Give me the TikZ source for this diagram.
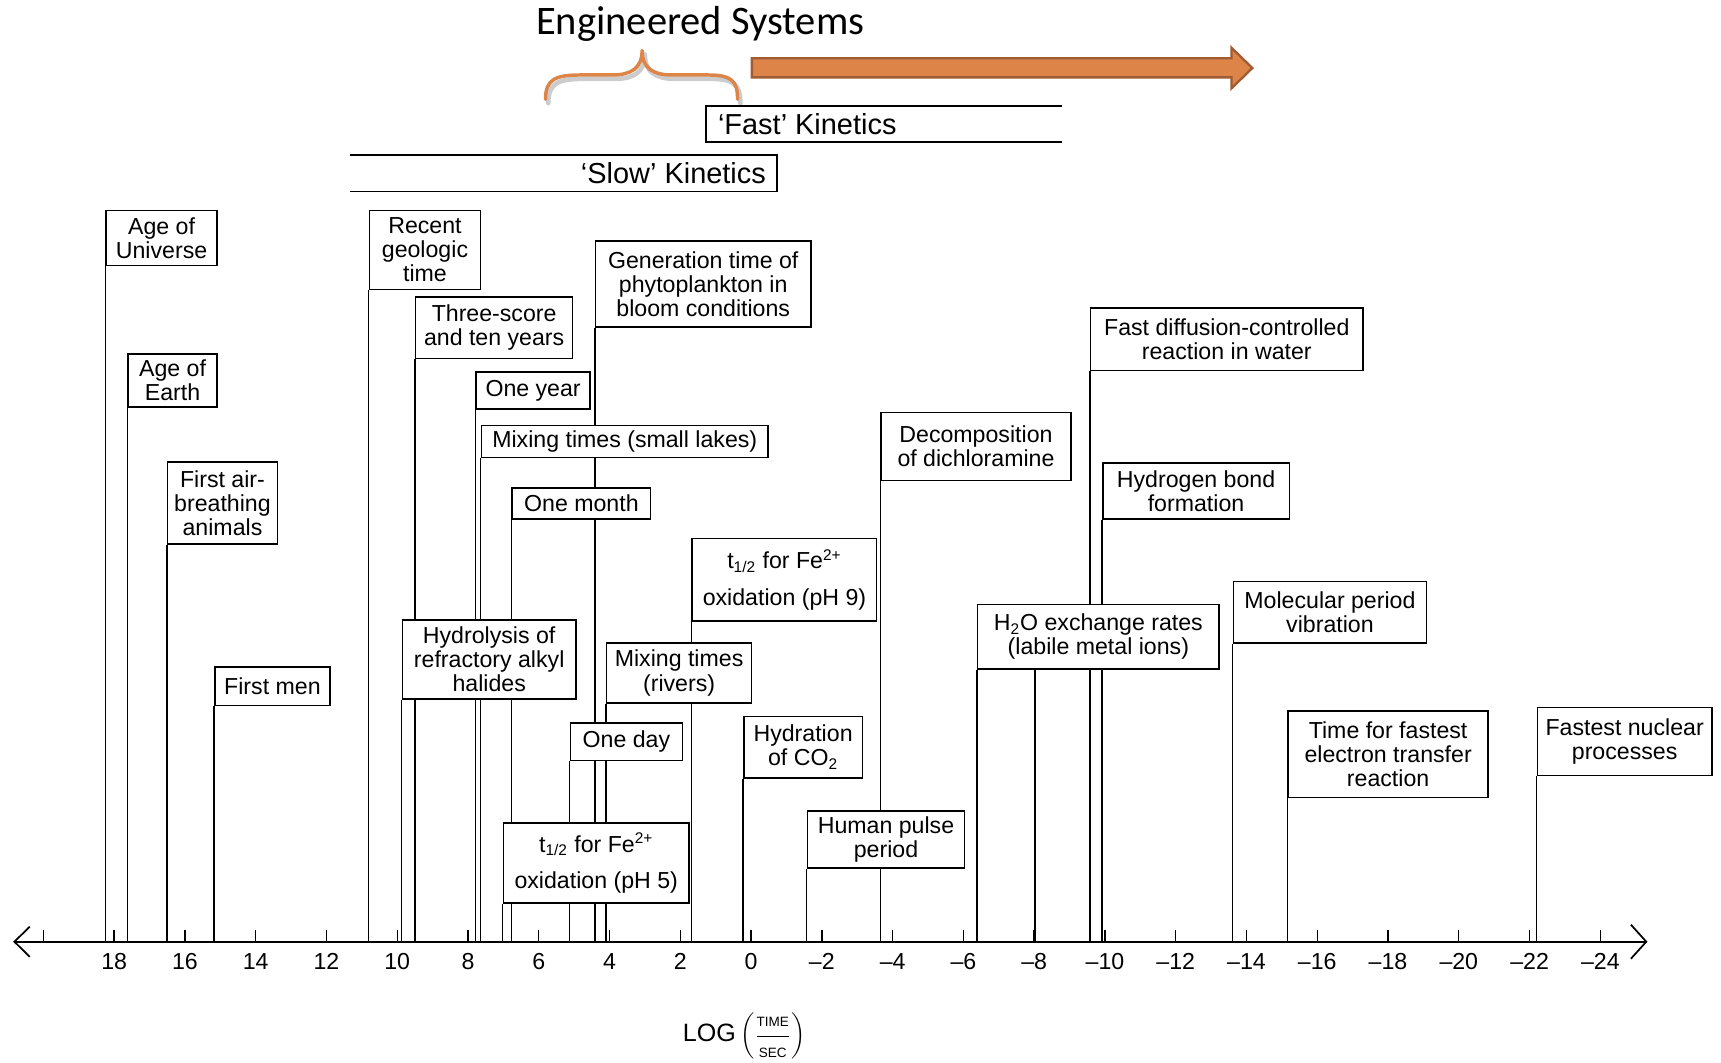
\documentclass[tikz,border=0pt]{standalone}
\usepackage{fontspec}
\setmainfont{Liberation Sans}
\newfontfamily\titlefont{Carlito}
\usetikzlibrary{arrows.meta,backgrounds}

\definecolor{engorange}{RGB}{221,132,72}
\definecolor{engbrown}{RGB}{160,92,52}

\tikzset{
  evt/.style={draw=black, line width=0.8pt, fill=white, anchor=north west,
    align=center, inner sep=1pt, font=\fontsize{12}{12.5}\selectfont},
  stem/.style={line width=0.7pt},
  tick/.style={line width=0.7pt},
  bracket/.style={line width=0.9pt},
  curly/.style={line width=1.8pt, line cap=round, line join=round}
}

\begin{document}
\begin{tikzpicture}[scale=0.2]
  \useasboundingbox (0,0) rectangle (156.8,-96.8);

  % engineered systems
  \node[font=\titlefont\fontsize{21}{21}\selectfont] (eng) at (63.8,-2.2) {Engineered Systems};
  \draw[curly, black!20, line width=2.4pt, shift={(0.25,-0.35)}] (49.7,-9.05) .. controls (49.7,-7.2) and (50.6,-6.83) .. (53.0,-6.83)
    -- (55.8,-6.83) .. controls (57.5,-6.83) and (58.5,-6.2) .. (58.5,-4.6)
    .. controls (58.5,-6.2) and (59.5,-6.83) .. (61.2,-6.83) -- (64.4,-6.83)
    .. controls (66.6,-6.83) and (67.2,-7.3) .. (67.2,-9.05);
  \draw[curly, engorange] (49.7,-9.05) .. controls (49.7,-7.2) and (50.6,-6.83) .. (53.0,-6.83)
    -- (55.8,-6.83) .. controls (57.5,-6.83) and (58.5,-6.2) .. (58.5,-4.6)
    .. controls (58.5,-6.2) and (59.5,-6.83) .. (61.2,-6.83) -- (64.4,-6.83)
    .. controls (66.6,-6.83) and (67.2,-7.3) .. (67.2,-9.05);
  \filldraw[fill=engorange, draw=engbrown, line width=1.2pt] (68.5,-5.3) -- (112.2,-5.3) -- (112.2,-4.35)
    -- (114.1,-6.2) -- (112.2,-8.05) -- (112.2,-7.05) -- (68.5,-7.05) -- cycle;

  % kinetics
  \draw[bracket] (96.8,-9.65) -| (64.3,-12.95) -- (96.8,-12.95);
  \node[anchor=west, font=\fontsize{15}{15}\selectfont] (fast) at (64.8,-11.3) {‘Fast’ Kinetics};
  \draw[bracket] (31.9,-14.1) -| (70.8,-17.45) -- (31.9,-17.45);
  \node[anchor=east, font=\fontsize{15}{15}\selectfont] (slow) at (70.4,-15.8) {‘Slow’ Kinetics};

  % axis
  \coordinate (axisL) at (1.2,-85.8);
  \coordinate (axisR) at (150.1,-85.8);
  \draw[line width=0.9pt, {Straight Barb[length=0.28cm,width=0.55cm]}-{Straight Barb[length=0.28cm,width=0.62cm]}] (axisL) -- (axisR);
  \foreach \v in {20,18,...,-24} {
    \pgfmathsetmacro\tx{68.43-3.224*\v}
    \draw[tick] (\tx,-85.8) -- ++(0,1.1);
  }
  \foreach \v in {18,16,...,-24} {
    \pgfmathsetmacro\tx{68.43-3.224*\v}
    \node[font=\fontsize{12}{12}\selectfont] (lab\v) at (\tx,-87.6) {\ifnum\v<0 \textendash\number-\v\else\v\fi};
  }
  \node[font=\fontsize{13}{13}\selectfont] (units) at (67.8,-94.4)
    {LOG\,$\displaystyle\left(\frac{\hbox{\fontsize{7}{7}\selectfont TIME}}{\hbox{\fontsize{7}{7}\selectfont SEC}}\right)$};

  % events
  \node[evt, minimum width=2.02cm, minimum height=1.00cm] (universe) at (9.6,-19.1) {Age of\\Universe};
  \node[evt, minimum width=1.62cm, minimum height=0.96cm] (earth) at (11.6,-32.2) {Age of\\Earth};
  \node[evt, minimum width=2.00cm, minimum height=1.50cm] (airbreath) at (15.2,-42.0) {First air-\\breathing\\animals};
  \node[evt, minimum width=2.10cm, minimum height=0.70cm] (firstmen) at (19.5,-60.7) {First men};
  \node[evt, minimum width=2.02cm, minimum height=1.44cm] (geologic) at (33.6,-19.1) {Recent\\geologic\\time};
  \node[evt, minimum width=2.86cm, minimum height=1.12cm] (threescore) at (37.8,-27.0) {Three-score\\and ten years};
  \node[evt, minimum width=2.08cm, minimum height=0.68cm] (oneyear) at (43.3,-33.8) {One year};
  \node[evt, minimum width=5.22cm, minimum height=0.58cm] (lakes) at (43.8,-38.7) {Mixing times (small lakes)};
  \node[evt, minimum width=3.92cm, minimum height=1.56cm] (phyto) at (54.2,-21.9) {Generation time of\\phytoplankton in\\bloom conditions};
  \node[evt, minimum width=2.52cm, minimum height=0.56cm] (onemonth) at (46.6,-44.4) {One month};
  \node[evt, minimum width=3.16cm, minimum height=1.44cm] (hydrolysis) at (36.6,-56.4) {Hydrolysis of\\refractory alkyl\\halides};
  \node[evt, minimum width=3.36cm, minimum height=1.50cm] (fenine) at (63.0,-49.0) {t\textsubscript{1/2} for Fe\textsuperscript{2+}\\[0.22cm]oxidation (pH 9)};
  \node[evt, minimum width=2.64cm, minimum height=1.10cm] (rivers) at (55.2,-58.5) {Mixing times\\(rivers)};
  \node[evt, minimum width=2.04cm, minimum height=0.68cm] (oneday) at (51.9,-65.8) {One day};
  \node[evt, minimum width=2.16cm, minimum height=1.12cm] (hydration) at (67.7,-65.2) {Hydration\\of CO\textsubscript{2}};
  \node[evt, minimum width=3.38cm, minimum height=1.46cm] (fefive) at (45.8,-74.9) {t\textsubscript{1/2} for Fe\textsuperscript{2+}\\[0.22cm]oxidation (pH 5)};
  \node[evt, minimum width=2.86cm, minimum height=1.04cm] (pulse) at (73.5,-73.8) {Human pulse\\period};
  \node[evt, minimum width=3.46cm, minimum height=1.24cm] (dichlor) at (80.2,-37.5) {Decomposition\\of dichloramine};
  \node[evt, minimum width=4.40cm, minimum height=1.18cm] (h2o) at (89.0,-55.0) {H\textsubscript{2}O exchange rates\\(labile metal ions)};
  \node[evt, minimum width=4.96cm, minimum height=1.14cm] (diffusion) at (99.3,-28.0) {Fast diffusion-controlled\\reaction in water};
  \node[evt, minimum width=3.40cm, minimum height=1.02cm] (hbond) at (100.4,-42.1) {Hydrogen bond\\formation};
  \node[evt, minimum width=3.52cm, minimum height=1.12cm] (molecular) at (112.3,-52.9) {Molecular period\\vibration};
  \node[evt, minimum width=3.64cm, minimum height=1.58cm] (electron) at (117.3,-64.7) {Time for fastest\\electron transfer\\reaction};
  \node[evt, minimum width=3.18cm, minimum height=1.24cm] (nuclear) at (140.0,-64.4) {Fastest nuclear\\processes};
  \coordinate (h2oB) at (94.3,-60.9);

  % stems down to the axis
  \begin{scope}[on background layer]
    \foreach \n in {universe,earth,airbreath,firstmen,geologic,threescore,oneyear,lakes,phyto,
                    onemonth,hydrolysis,fenine,rivers,oneday,hydration,fefive,pulse,dichlor,h2o,
                    diffusion,hbond,molecular,electron,nuclear}
      \draw[stem] (\n.south west) -- (\n.south west |- axisL);
    \draw[stem] (h2oB) -- (h2oB |- axisL);
  \end{scope}
\end{tikzpicture}
\end{document}
